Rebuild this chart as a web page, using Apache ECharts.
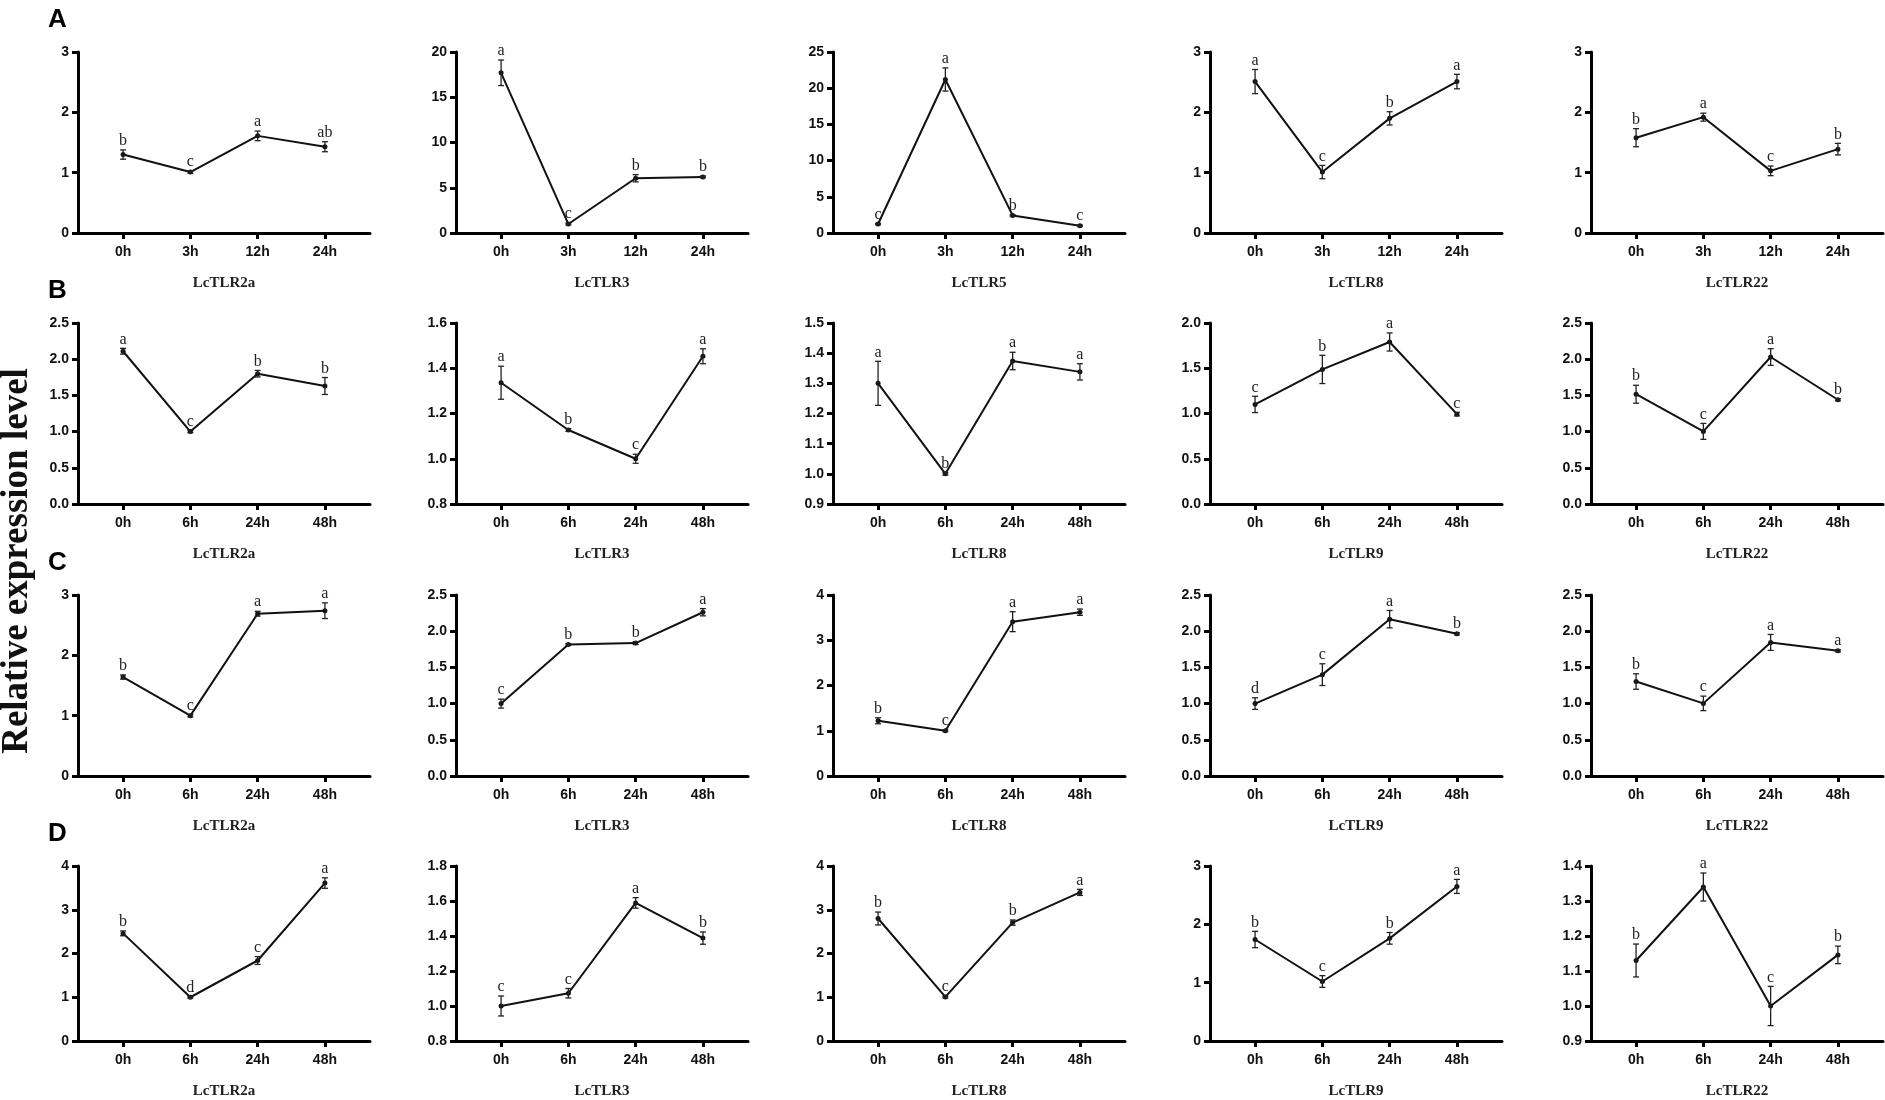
<!DOCTYPE html>
<html>
<head>
<meta charset="utf-8">
<title>LcTLR relative expression</title>
<script src="https://cdn.jsdelivr.net/npm/echarts@6/dist/echarts.min.js"></script>
<style>
  html, body { margin: 0; padding: 0; background: #fff; }
  #chart { width: 1885px; height: 1100px; }
</style>
</head>
<body>
<div id="chart"></div>
<script>
// ---- data ----
const panelLetters = ['A', 'B', 'C', 'D'];
const timesA = ['0h', '3h', '12h', '24h'];
const timesBCD = ['0h', '6h', '24h', '48h'];

const genesA = ['LcTLR2a', 'LcTLR3', 'LcTLR5', 'LcTLR8', 'LcTLR22'];
const genesB = ['LcTLR2a', 'LcTLR3', 'LcTLR8', 'LcTLR9', 'LcTLR22'];
const genesC = ['LcTLR2a', 'LcTLR3', 'LcTLR8', 'LcTLR9', 'LcTLR22'];
const genesD = ['LcTLR2a', 'LcTLR3', 'LcTLR8', 'LcTLR9', 'LcTLR22'];

const meanA = [
  [1.30, 1.01, 1.61, 1.43],
  [17.7, 0.99, 6.05, 6.2],
  [1.24, 21.2, 2.43, 1.0],
  [2.51, 1.01, 1.90, 2.51],
  [1.58, 1.92, 1.03, 1.39]
];
const errA = [
  [0.077, 0.02, 0.08, 0.083],
  [1.41, 0.1, 0.4, 0.1],
  [0.1, 1.6, 0.1, 0.1],
  [0.2, 0.11, 0.11, 0.12],
  [0.15, 0.066, 0.08, 0.096]
];
const sigA = [
  ['b', 'c', 'a', 'ab'],
  ['a', 'c', 'b', 'b'],
  ['c', 'a', 'b', 'c'],
  ['a', 'c', 'b', 'a'],
  ['b', 'a', 'c', 'b']
];

const meanB = [
  [2.11, 1.0, 1.80, 1.63],
  [1.336, 1.127, 1.0, 1.453],
  [1.30, 1.0, 1.374, 1.338],
  [1.10, 1.487, 1.79, 0.993],
  [1.516, 1.003, 2.03, 1.44]
];
const errB = [
  [0.04, 0.015, 0.045, 0.117],
  [0.073, 0.006, 0.02, 0.033],
  [0.073, 0.004, 0.029, 0.027],
  [0.09, 0.156, 0.1, 0.02],
  [0.124, 0.11, 0.115, 0.015]
];
const sigB = [
  ['a', 'c', 'b', 'b'],
  ['a', 'b', 'c', 'a'],
  ['a', 'b', 'a', 'a'],
  ['c', 'b', 'a', 'c'],
  ['b', 'c', 'a', 'b']
];

const meanC = [
  [1.64, 1.0, 2.69, 2.74],
  [1.0, 1.818, 1.836, 2.262],
  [1.22, 1.0, 3.41, 3.62],
  [1.0, 1.40, 2.166, 1.964],
  [1.305, 1.003, 1.845, 1.73]
];
const errC = [
  [0.035, 0.02, 0.04, 0.13],
  [0.062, 0.01, 0.02, 0.05],
  [0.066, 0.02, 0.22, 0.07],
  [0.08, 0.15, 0.12, 0.015],
  [0.107, 0.1, 0.11, 0.015]
];
const sigC = [
  ['b', 'c', 'a', 'a'],
  ['c', 'b', 'b', 'a'],
  ['b', 'c', 'a', 'a'],
  ['d', 'c', 'a', 'b'],
  ['b', 'c', 'a', 'a']
];

const meanD = [
  [2.46, 1.0, 1.84, 3.61],
  [1.0, 1.073, 1.589, 1.388],
  [2.80, 1.007, 2.706, 3.397],
  [1.74, 1.02, 1.76, 2.65],
  [1.13, 1.34, 1.0, 1.146]
];
const errD = [
  [0.055, 0.02, 0.09, 0.12],
  [0.057, 0.027, 0.03, 0.035],
  [0.147, 0.02, 0.06, 0.07],
  [0.14, 0.1, 0.1, 0.12],
  [0.047, 0.04, 0.056, 0.025]
];
const sigD = [
  ['b', 'd', 'c', 'a'],
  ['c', 'c', 'a', 'b'],
  ['b', 'c', 'b', 'a'],
  ['b', 'c', 'b', 'a'],
  ['b', 'a', 'c', 'b']
];

// y axis [min, max, interval] per panel
const yRangeA = [[0, 3, 1], [0, 20, 5], [0, 25, 5], [0, 3, 1], [0, 3, 1]];
const yRangeB = [[0, 2.5, 0.5], [0.8, 1.6, 0.2], [0.9, 1.5, 0.1], [0, 2, 0.5], [0, 2.5, 0.5]];
const yRangeC = [[0, 3, 1], [0, 2.5, 0.5], [0, 4, 1], [0, 2.5, 0.5], [0, 2.5, 0.5]];
const yRangeD = [[0, 4, 1], [0.8, 1.8, 0.2], [0, 4, 1], [0, 3, 1], [0.9, 1.4, 0.1]];

const rows = [
  { times: timesA, genes: genesA, mean: meanA, err: errA, sig: sigA, yr: yRangeA },
  { times: timesBCD, genes: genesB, mean: meanB, err: errB, sig: sigB, yr: yRangeB },
  { times: timesBCD, genes: genesC, mean: meanC, err: errC, sig: sigC, yr: yRangeC },
  { times: timesBCD, genes: genesD, mean: meanD, err: errD, sig: sigD, yr: yRangeD }
];

// ---- layout ----
const colLeft = [78, 456, 833, 1210, 1591];
const rowTop = [52, 323, 595, 866];
const gridW = 292, gridH = 181;

const sansBold = 'Liberation Sans, Arial, sans-serif';
const serif = 'Liberation Serif, Times New Roman, serif';

const chart = echarts.init(document.getElementById('chart'));

const grids = [], xAxes = [], yAxes = [], series = [];

rows.forEach((row, r) => {
  row.genes.forEach((gene, c) => {
    const idx = grids.length;
    const [ymin, ymax, step] = row.yr[c];
    const dec = step < 1 ? 1 : 0;
    const times = row.times;
    const sig = row.sig[c];

    grids.push({ left: colLeft[c], top: rowTop[r], width: gridW, height: gridH, containLabel: false });

    xAxes.push({
      gridIndex: idx,
      type: 'value',
      min: 0.33,
      max: 4.67,
      name: gene,
      nameLocation: 'middle',
      nameGap: 43,
      nameTextStyle: { fontFamily: serif, fontWeight: 'bold', fontSize: 15, color: '#222' },
      axisLine: { show: true, onZero: false, lineStyle: { color: '#000', width: 3 } },
      axisTick: { show: true, length: 6, customValues: [1, 2, 3, 4], lineStyle: { color: '#000', width: 3 } },
      axisLabel: {
        customValues: [1, 2, 3, 4],
        margin: 12,
        fontFamily: sansBold, fontWeight: 'bold', fontSize: 14, color: '#111',
        formatter: v => times[Math.round(v) - 1]
      },
      splitLine: { show: false }
    });

    yAxes.push({
      gridIndex: idx,
      type: 'value',
      min: ymin,
      max: ymax,
      interval: step,
      axisLine: { show: true, onZero: false, lineStyle: { color: '#000', width: 3 } },
      axisTick: { show: true, length: 6, lineStyle: { color: '#000', width: 3 } },
      axisLabel: {
        margin: 9,
        fontFamily: sansBold, fontWeight: 'bold', fontSize: 14, color: '#111',
        formatter: v => v.toFixed(dec)
      },
      splitLine: { show: false }
    });

    const pts = row.mean[c].map((m, i) => [i + 1, m]);
    const bars = row.mean[c].map((m, i) => [i + 1, m, row.err[c][i]]);

    series.push({
      type: 'line',
      xAxisIndex: idx,
      yAxisIndex: idx,
      data: pts,
      symbol: 'circle',
      symbolSize: 5,
      itemStyle: { color: '#111' },
      lineStyle: { color: '#111', width: 2 },
      animation: false,
      z: 2
    });

    series.push({
      type: 'custom',
      xAxisIndex: idx,
      yAxisIndex: idx,
      data: bars,
      animation: false,
      z: 3,
      renderItem: (params, api) => {
        const x = api.value(0), m = api.value(1), e = api.value(2);
        const hi = api.coord([x, m + e]);
        const lo = api.coord([x, m - e]);
        const cap = 3;
        const st = { stroke: '#222', lineWidth: 1.3 };
        return {
          type: 'group',
          children: [
            { type: 'line', shape: { x1: hi[0], y1: hi[1], x2: lo[0], y2: lo[1] }, style: st },
            { type: 'line', shape: { x1: hi[0] - cap, y1: hi[1], x2: hi[0] + cap, y2: hi[1] }, style: st },
            { type: 'line', shape: { x1: lo[0] - cap, y1: lo[1], x2: lo[0] + cap, y2: lo[1] }, style: st },
            {
              type: 'text',
              x: hi[0], y: hi[1] - 1,
              style: {
                text: sig[params.dataIndex],
                fontFamily: serif, fontSize: 16, fill: '#222',
                textAlign: 'center', textVerticalAlign: 'bottom'
              }
            }
          ]
        };
      }
    });
  });
});

const titles = panelLetters.map((t, r) => ({
  text: t,
  left: 43,
  top: rowTop[r] - 50,
  textStyle: { fontFamily: sansBold, fontWeight: 'bold', fontSize: 26, color: '#000' }
}));

chart.setOption({
  backgroundColor: '#fff',
  animation: false,
  title: titles,
  grid: grids,
  xAxis: xAxes,
  yAxis: yAxes,
  series: series,
  graphic: [{
    type: 'text',
    x: 17,
    y: 561,
    rotation: Math.PI / 2,
    style: {
      text: 'Relative expression level',
      fontFamily: serif, fontWeight: 'bold', fontSize: 37, fill: '#111',
      textAlign: 'center', textVerticalAlign: 'middle'
    }
  }]
});
</script>
</body>
</html>
